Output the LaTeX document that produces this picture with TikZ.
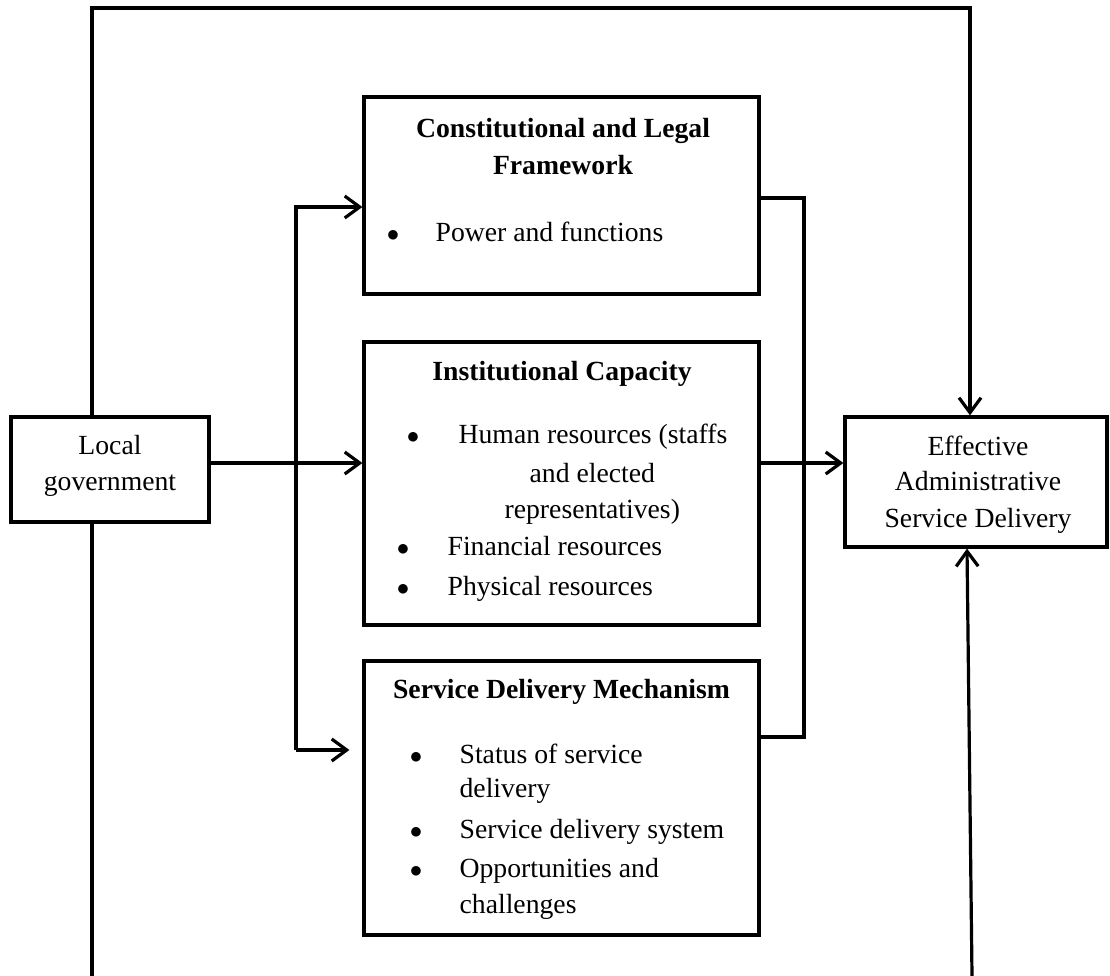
\documentclass[tikz,border=0pt]{standalone}
\usepackage{fontspec}
\setmainfont{Liberation Serif}
\usetikzlibrary{arrows.meta}
\begin{document}
\begin{tikzpicture}[x=1pt,y=-1pt,line width=3.2pt,
  box/.style={draw,line width=3.2pt,rectangle,inner sep=0pt},
  txt/.style={inner sep=0pt,font=\fontsize{27.7}{33}\selectfont},
  ttl/.style={inner sep=0pt,font=\fontsize{27.7}{33}\selectfont\bfseries,anchor=base},
  ctr/.style={txt,anchor=base},
  itm/.style={txt,anchor=base west},
  bul/.style={inner sep=0pt,font=\fontsize{31}{33}\selectfont,anchor=base},
  arr/.style={-{Straight Barb[length=15pt,width=22pt,line width=3.2pt]}}]
\useasboundingbox (0,0) rectangle (1110,976);
% boxes
\node[box,minimum width=198pt,minimum height=105pt] (lg) at (110,469.5) {};
\node[box,minimum width=262pt,minimum height=130pt] (eff) at (976,482) {};
\node[box,minimum width=395pt,minimum height=197pt] (b1) at (561.5,195.5) {};
\node[box,minimum width=395pt,minimum height=283pt] (b2) at (561.5,483.5) {};
\node[box,minimum width=395pt,minimum height=274pt] (b3) at (561.5,798) {};
% texts
\node[ctr] (lg1) at (110,454) {Local};
\node[ctr] (lg2) at (110,490) {government};
\node[ctr] (ef1) at (978,455) {Effective};
\node[ctr] (ef2) at (978,490) {Administrative};
\node[ctr] (ef3) at (978,527) {Service Delivery};
\node[ttl] (h1a) at (563,138) {Constitutional and Legal};
\node[ttl] (h1b) at (563,175) {Framework};
\node[bul] (u11) at (393,241) {$\bullet$};
\node[itm] (i11) at (434,241) {Power and functions};
\node[ttl] (h2) at (562,380) {Institutional Capacity};
\node[bul] (u21) at (413,443) {$\bullet$};
\node[itm] (i21) at (457,443) {Human resources (staffs};
\node[itm] (i21b) at (528,482) {and elected};
\node[itm] (i21c) at (503,518) {representatives)};
\node[bul] (u22) at (403,555) {$\bullet$};
\node[itm] (i22) at (446,555) {Financial resources};
\node[bul] (u23) at (403,595) {$\bullet$};
\node[itm] (i23) at (446,595) {Physical resources};
\node[ttl] (h3) at (561.5,698) {Service Delivery Mechanism};
\node[bul] (u31) at (416,763) {$\bullet$};
\node[itm] (i31) at (458,763) {Status of service};
\node[itm] (i31b) at (458,797) {delivery};
\node[bul] (u32) at (416,838) {$\bullet$};
\node[itm] (i32) at (458,838) {Service delivery system};
\node[bul] (u33) at (416,877) {$\bullet$};
\node[itm] (i33) at (458,877) {Opportunities and};
\node[itm] (i33b) at (458,913) {challenges};
% coordinates
\coordinate (tl) at (92,8);
\coordinate (tr) at (970,8);
\coordinate (bl) at (92,976);
\coordinate (br) at (972,976);
\coordinate (brt) at (967,0);
\coordinate (m) at (0,463);
\coordinate (sa) at (296,207);
\coordinate (sb) at (296,750);
\coordinate (r1) at (804,198);
\coordinate (r3) at (804,737);
% connectors
\draw[arr] (lg.north -| tl) -- (tl) -- (tr) -- (eff.north -| tr);
\draw (lg.south -| bl) -- (bl);
\draw[arr] (br) -- (eff.south -| brt);
\draw[arr] (lg.east |- m) -- (b2.west |- m);
\draw[arr] (sb) -- (sa) -- (b1.west |- sa);
\draw[arr,shorten >=13pt] (sb) -- (b3.west |- sb);
\draw (b1.east |- r1) -- (r1) -- (r3) -- (b3.east |- r3);
\draw[arr] (b2.east |- m) -- (eff.west |- m);
\end{tikzpicture}
\end{document}
